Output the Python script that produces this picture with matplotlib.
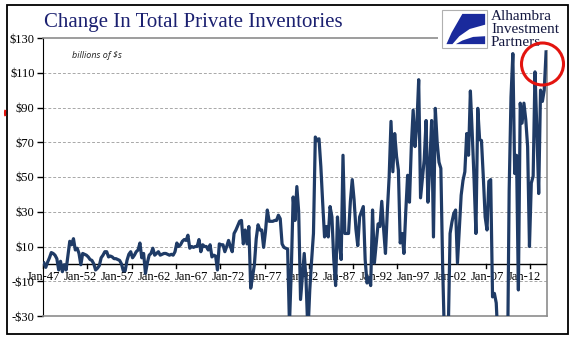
import numpy as np
import matplotlib
matplotlib.use("Agg")
import matplotlib.pyplot as plt
from matplotlib.patches import Rectangle, Polygon, Ellipse, Arc

# quarterly change in private inventories, billions of $, 1947Q1 .. 2015Q1
START_YEAR = 1947
cipi = [
    0.5, -2, 1, 3.5,          # 1947
    6.5, 6, 5, 3,             # 1948
    -3.5, 1.5, -4.5, -0.5,    # 1949
    -3.5, 5, 13, 11,          # 1950
    14.5, 8, 9, 6,            # 1951
    -0.5, 6, 5.5, 5,          # 1952
    4, 2.5, 2, 0,             # 1953
    -3.5, -2.5, -1, 3.5,      # 1954
    5, 7, 7, 4,               # 1955
    4.5, 4, 3, 3,             # 1956
    2.5, 2, 0, -4,            # 1957
    -4, 2, 5.5, 7,            # 1958
    3.5, 5, 7, 8,             # 1959
    12, 3.5, 6, -5.5,         # 1960
    0.5, 5, 6, 9,             # 1961
    5, 6, 7, 5,               # 1962
    5.5, 6, 6, 5.5,           # 1963
    5, 5.5, 5, 7,             # 1964
    12, 10, 11, 13,           # 1965
    14, 13.5, 16.5, 9,        # 1966
    10, 9.5, 10, 10,          # 1967
    14, 7, 11, 10,            # 1968
    10, 8, 11, 4,             # 1969
    5, 4.5, -3.5, 11.5,       # 1970
    11, 11, 7, 10,            # 1971
    13.5, 10, 7, 17.5,        # 1972
    19.5, 22, 24.5, 25,       # 1973
    11.5, 19.5, 11.5, 21.5,   # 1974
    -14, -7.5, -0.5, 14.5,    # 1975
    22.5, 19.5, 19.5, 9.5,    # 1976
    18.5, 31, 24.5, 24.5,     # 1977
    24.5, 25, 25, 28,         # 1978
    26, 11.5, 9.5, 9,         # 1979
    8.5, -35, -3.5, 38.5,     # 1980
    25, 44.5, 30, -20.5,      # 1981
    -7.5, 6, -10, -40,        # 1982
    -15, 2, 17.5, 73,         # 1983
    71, 72, 56, 35,           # 1984
    15.5, 21.5, 15.5, 33,     # 1985
    27, 2.5, -12.5, 27,       # 1986
    12, 2.5, 62.5, 17.5,      # 1987
    17.5, 17.5, 36, 48.5,     # 1988
    37, 20, 10.5, 27,         # 1989
    30, 33, 2.5, -11,         # 1990
    -8, -12.5, 31, 0.5,       # 1991
    12, 23, 21.5, 36,         # 1992
    20, 6, 30, 50,            # 1993
    82, 53, 75, 62,           # 1994
    54, 12, 17.5, 6,          # 1995
    30, 51, 35.5, 67.5,       # 1996
    88.5, 67.5, 80, 106,      # 1997
    38, 49, 60, 82.5,         # 1998
    35.5, 56.5, 82.5, 15.5,   # 1999
    89.5, 70, 58.5, 55,       # 2000
    -2.5, -45, -60, -40,      # 2001
    17.5, 24, 29, 31,         # 2002
    0.5, 20, 39.5, 48,        # 2003
    53, 75, 62.5, 99.5,       # 2004
    75, 48.5, 17.5, 89.5,     # 2005
    71.5, 71, 50, 27,         # 2006
    19.5, 47.5, 48.5, -19,    # 2007
    -17, -22.5, -45, -80,     # 2008
    -120, -150, -150, -70,    # 2009
    42, 96, 121, 52,          # 2010
    62.5, -15, 92.5, 81,      # 2011
    92.5, 83, 67.5, 10,       # 2012
    46.5, 50.5, 110.5, 77.5,  # 2013
    40.5, 100, 93.5, 100,     # 2014
    122,                      # 2015
]
quarters = [f"{START_YEAR + i // 4}Q{i % 4 + 1}" for i in range(len(cipi))]

x_labels = ["Jan-47", "Jan-52", "Jan-57", "Jan-62", "Jan-67", "Jan-72", "Jan-77",
            "Jan-82", "Jan-87", "Jan-92", "Jan-97", "Jan-02", "Jan-07", "Jan-12"]
y_ticks = [-30, -10, 10, 30, 50, 70, 90, 110, 130]

LINE = "#1F3B66"
NAVY = "#1B2070"
SERIF = "Liberation Serif"

W, H = 577, 341
fig = plt.figure(figsize=(W / 100, H / 100), dpi=100)


def fx(px):
    return px / W


def fy(py):
    return 1 - py / H


# outer frame
fig.add_artist(Rectangle((fx(7), fy(334)), fx(568) - fx(7), fy(5) - fy(334),
                         transform=fig.transFigure, fill=False, ec="black", lw=1.3))

ax = fig.add_axes([fx(43), fy(316), fx(547) - fx(43), fy(38) - fy(316)])
x = np.arange(len(cipi))
ax.plot(x, cipi, color=LINE, lw=2.3, solid_joinstyle="round", zorder=5)

ax.set_xlim(-0.5, len(cipi) - 0.5)
ax.set_ylim(-30, 130)
ax.set_yticks(y_ticks)
ax.set_yticklabels([f"${v}" if v >= 0 else f"-${-v}" for v in y_ticks],
                   family=SERIF, fontsize=9)
ax.tick_params(axis="y", direction="out", length=4, width=1, pad=2)
ax.set_xticks([])
for v in y_ticks[1:-1]:
    ax.axhline(v, color="#A8A8A8", lw=0.7, ls=(0, (3, 2)), zorder=1)

ax.spines["left"].set_color("black")
for s in ["bottom", "right", "top"]:
    ax.spines[s].set_color("#8C8C8C")
    ax.spines[s].set_linewidth(1.2)

# zero line with category ticks and labels
ax.axhline(0, color="black", lw=1, zorder=3)
for t in np.arange(-0.5, len(cipi), 24):
    ax.plot([t, t], [-2.2, 0], color="black", lw=1, zorder=3, clip_on=False)
for i, lab in enumerate(x_labels):
    ax.text(i * 20, -7.5, lab, ha="center", va="center", family=SERIF,
            fontsize=9, zorder=2)

# title and subtitle
fig.text(fx(44), fy(22), "Change In Total Private Inventories", family=SERIF,
         fontsize=15, color=NAVY, ha="left", va="center")
ax.text(0.058, 0.938, "billions of $s", transform=ax.transAxes, style="italic",
        family="Open Sans", fontsize=6.5, color="#222222", ha="left", va="center")

# logo
fig.add_artist(Rectangle((fx(438), fy(50)), fx(566) - fx(438), fy(7) - fy(50),
                         transform=fig.transFigure, fc="white", ec="none", zorder=10))
fig.add_artist(Rectangle((fx(442), fy(48)), fx(487) - fx(442), fy(10) - fy(48),
                         transform=fig.transFigure, fc="white", ec="#B0B0B0",
                         lw=0.8, zorder=11))
bx0, by0, bw, bh = fx(443), fy(47), fx(486) - fx(443), fy(11) - fy(47)
swoosh = [(0.45, 0.92), (0.98, 0.92), (0.98, 0.62), (0.62, 0.5), (0.38, 0.3),
          (0.22, 0.08), (0.08, 0.08), (0.2, 0.4)]
fig.add_artist(Polygon([(bx0 + u * bw, by0 + v * bh) for u, v in swoosh],
                       closed=True, transform=fig.transFigure, fc="#1A2A9C",
                       ec="none", zorder=12))
lower = [(0.3, 0.08), (0.98, 0.08), (0.98, 0.3), (0.7, 0.28), (0.45, 0.18)]
fig.add_artist(Polygon([(bx0 + u * bw, by0 + v * bh) for u, v in lower],
                       closed=True, transform=fig.transFigure, fc="#1A2A9C",
                       ec="none", zorder=12))
for txt, py in [("Alhambra", 17), ("Investment", 29.5), ("Partners", 42)]:
    fig.text(fx(491), fy(py), txt, family=SERIF, fontsize=11, color="#141840",
             ha="left", va="center", zorder=13)

# red highlight circle on the latest reading
fig.add_artist(Ellipse((fx(542.5), fy(64)), fx(42), 42 / H, transform=fig.transFigure,
                       fill=False, ec="#E3140F", lw=2.2, zorder=14))
fig.add_artist(Arc((fx(20), fy(113)), fx(30), 30 / H, theta1=160, theta2=200,
                   transform=fig.transFigure, ec="#E3140F", lw=1.5, zorder=14))

fig.savefig("out.png", dpi=100)
